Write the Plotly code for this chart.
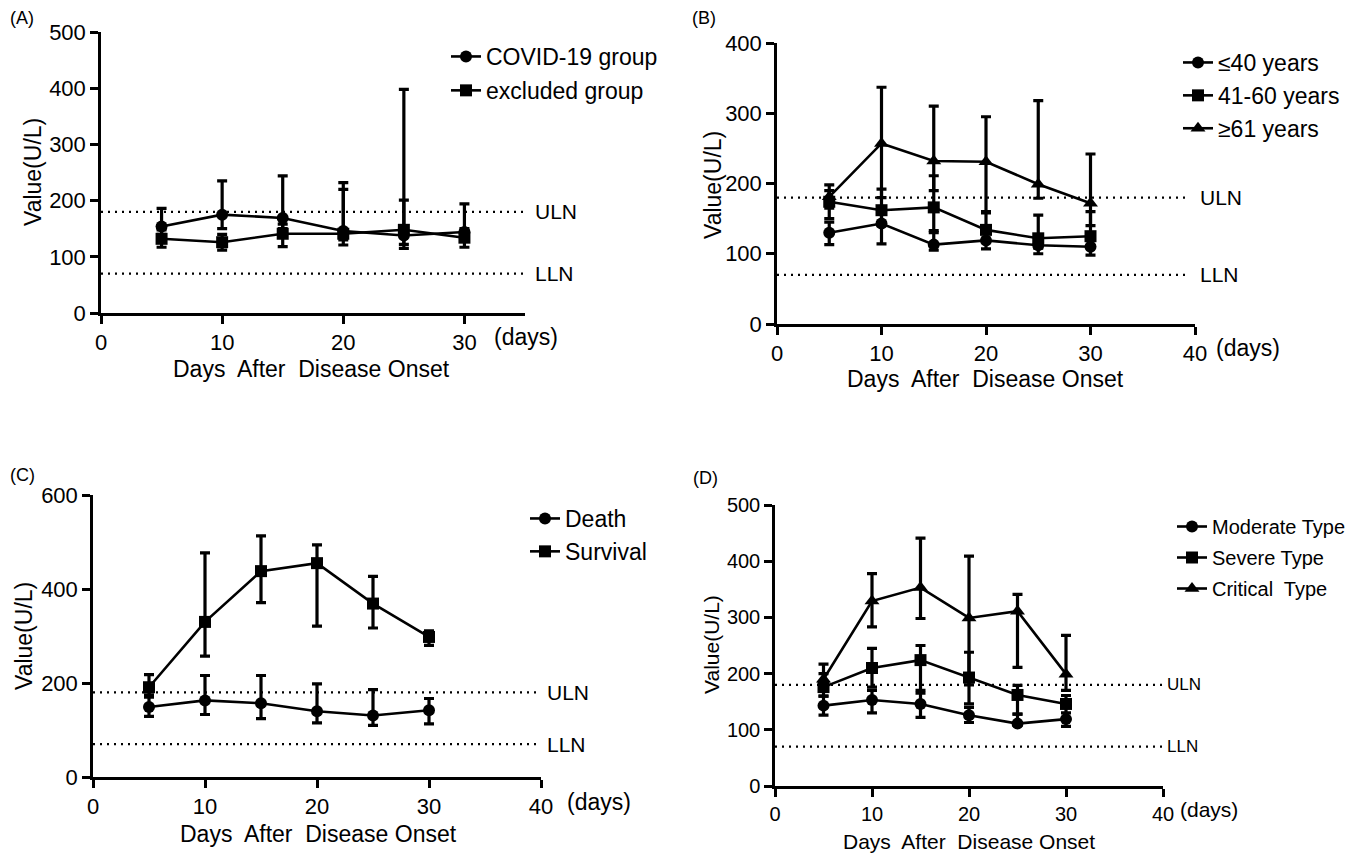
import plotly.graph_objects as go

W, H = 1357, 854
OFF = 8  # page body margin offset of the plot div
FW, FH = W - OFF, H - OFF
FONT = "Liberation Sans, Arial, sans-serif"

days = [5, 10, 15, 20, 25, 30]
ULN, LLN = 180, 70

# Panel A
covid_mean = [154, 175, 169, 146, 138, 144]
covid_upper = [186, 235, 244, 232, 201, 194]
covid_lower = [140, 150, 150, 130, 122, 128]
excl_mean = [132, 126, 141, 141, 148, 134]
excl_upper = [148, 140, 158, 220, 398, 150]
excl_lower = [117, 112, 118, 121, 115, 117]

# Panel B
young_mean = [130, 143, 113, 119, 112, 110]
young_upper = [145, 160, 130, 130, 120, 120]
young_lower = [113, 114, 105, 107, 100, 98]
mid_mean = [174, 162, 166, 134, 122, 125]
mid_upper = [198, 192, 211, 158, 155, 160]
mid_lower = [150, 140, 133, 118, 108, 110]
old_mean = [181, 257, 232, 231, 199, 172]
old_upper = [190, 337, 310, 295, 318, 242]
old_lower = [165, 180, 190, 160, 179, 140]

# Panel C
death_mean = [149, 163, 157, 140, 131, 142]
death_upper = [170, 216, 216, 198, 186, 167]
death_lower = [129, 133, 124, 115, 110, 113]
surv_mean = [191, 330, 438, 455, 369, 298]
surv_upper = [218, 477, 513, 494, 427, 311]
surv_lower = [175, 257, 371, 321, 317, 280]

# Panel D
mod_mean = [143, 153, 146, 126, 111, 119]
mod_upper = [160, 170, 165, 140, 128, 130]
mod_lower = [126, 130, 122, 113, 108, 106]
sev_mean = [176, 210, 224, 193, 162, 146]
sev_upper = [200, 245, 250, 238, 179, 161]
sev_lower = [160, 176, 170, 146, 128, 120]
crit_mean = [190, 329, 353, 299, 311, 199]
crit_upper = [217, 378, 441, 409, 341, 268]
crit_lower = [180, 283, 298, 180, 211, 170]


def px(x):
    return (x - OFF) / FW


def py(y):
    return 1 - (y - OFF) / FH


panels = {
    "A": dict(x0=101, x1=525, yb=313, yt=32, xmax=35, ymax=500, ydt=100, fs=22, xt=[0, 10, 20, 30]),
    "B": dict(x0=777, x1=1195, yb=324, yt=43, xmax=40, ymax=400, ydt=100, fs=22, xt=[0, 10, 20, 30, 40]),
    "C": dict(x0=93, x1=541, yb=777, yt=495, xmax=40, ymax=600, ydt=200, fs=22, xt=[0, 10, 20, 30, 40]),
    "D": dict(x0=775, x1=1163, yb=786, yt=505, xmax=40, ymax=500, ydt=100, fs=20, xt=[0, 10, 20, 30, 40]),
}

fig = go.Figure()

series = {
    "A": [("COVID-19 group", "circle", covid_mean, covid_upper, covid_lower),
          ("excluded group", "square", excl_mean, excl_upper, excl_lower)],
    "B": [("≤40 years", "circle", young_mean, young_upper, young_lower),
          ("41-60 years", "square", mid_mean, mid_upper, mid_lower),
          ("≥61 years", "triangle-up", old_mean, old_upper, old_lower)],
    "C": [("Death", "circle", death_mean, death_upper, death_lower),
          ("Survival", "square", surv_mean, surv_upper, surv_lower)],
    "D": [("Moderate Type", "circle", mod_mean, mod_upper, mod_lower),
          ("Severe Type", "square", sev_mean, sev_upper, sev_lower),
          ("Critical  Type", "triangle-up", crit_mean, crit_upper, crit_lower)],
}

legend_ids = {"A": "legend", "B": "legend2", "C": "legend3", "D": "legend4"}
legend_pos = {"A": (446, 35), "B": (1178, 41), "C": (525, 497), "D": (1172, 507)}
legend_fs = {"A": 23, "B": 23, "C": 23, "D": 20}
legend_gap = {"A": 1, "B": 0, "C": 0, "D": 2}

annotations = []
shapes = []

for i, key in enumerate(["A", "B", "C", "D"]):
    p = panels[key]
    n = "" if i == 0 else str(i + 1)
    xa, ya = "x" + n, "y" + n
    for name, sym, mean, up, lo in series[key]:
        fig.add_trace(go.Scatter(
            x=days, y=mean, name=name, mode="lines+markers",
            xaxis=xa, yaxis=ya, legend=legend_ids[key], legendgroup=key + name,
            line=dict(color="black", width=2.6),
            marker=dict(symbol=sym, size=12 if sym != "triangle-up" else 13, color="black"),
            error_y=dict(type="data", symmetric=False,
                         array=[u - m for u, m in zip(up, mean)],
                         arrayminus=[m - l for m, l in zip(mean, lo)],
                         color="black", thickness=3.2, width=5),
            cliponaxis=False,
        ))
    axis_common = dict(showline=True, linecolor="black", linewidth=2.5, ticks="outside",
                       ticklen=8, tickwidth=2.5, tickcolor="black", showgrid=False,
                       zeroline=False, automargin=False,
                       tickfont=dict(family=FONT, size=p["fs"], color="black"))
    fig.update_layout(**{
        "xaxis" + n: dict(domain=[px(p["x0"]), px(p["x1"])], range=[0, p["xmax"]],
                          tickvals=p["xt"], anchor=ya, **axis_common),
        "yaxis" + n: dict(domain=[py(p["yb"]), py(p["yt"])], range=[0, p["ymax"]],
                          dtick=p["ydt"], anchor=xa, **axis_common),
    })
    lx, ly = legend_pos[key]
    fig.update_layout(**{legend_ids[key]: dict(
        x=px(lx), y=py(ly), xanchor="left", yanchor="top", bgcolor="rgba(0,0,0,0)",
        font=dict(family=FONT, size=legend_fs[key], color="black"),
        tracegroupgap=legend_gap[key], itemwidth=30)})
    xend = p["xmax"] if key in ("A", "C", "D") else p["xmax"] - 0.5
    shift = {"A": 8, "B": 8, "C": 4, "D": 2}[key]
    for val, lab in [(ULN, "ULN"), (LLN, "LLN")]:
        shapes.append(dict(type="line", xref=xa, yref=ya, x0=0, x1=xend, y0=val, y1=val,
                           line=dict(color="black", width=2.2, dash="2px,5px")))
        annotations.append(dict(xref=xa, yref=ya, x=xend, y=val, text=lab, showarrow=False,
                                xanchor="left", yanchor="middle", xshift=shift,
                                font=dict(family=FONT, size=21 if key != "D" else 17, color="black")))

ytitles = {"A": (33, 172), "B": (713, 185), "C": (24, 636), "D": (711, 645)}
xtitles = {"A": (311, 369), "B": (986, 379), "C": (318, 834), "D": (969, 841)}
days_lab = {"A": (492, 337), "B": (1214, 348), "C": (565, 802), "D": (1178, 809)}
plabels = {"A": (8, 18), "B": (690, 18), "C": (8, 475), "D": (691, 478)}
for key in ["A", "B", "C", "D"]:
    fs = 23 if key != "D" else 21
    x, y = ytitles[key]
    annotations.append(dict(xref="paper", yref="paper", x=px(x), y=py(y), text="Value(U/L)",
                            textangle=-90, showarrow=False, xanchor="center", yanchor="middle",
                            font=dict(family=FONT, size=fs, color="black")))
    x, y = xtitles[key]
    annotations.append(dict(xref="paper", yref="paper", x=px(x), y=py(y),
                            text="Days&nbsp; After&nbsp; Disease Onset",
                            showarrow=False, xanchor="center", yanchor="middle",
                            font=dict(family=FONT, size=fs, color="black")))
    x, y = days_lab[key]
    annotations.append(dict(xref="paper", yref="paper", x=px(x), y=py(y), text="(days)",
                            showarrow=False, xanchor="left", yanchor="middle",
                            font=dict(family=FONT, size=fs, color="black")))
    x, y = plabels[key]
    annotations.append(dict(xref="paper", yref="paper", x=px(x), y=py(y), text="(" + key + ")",
                            showarrow=False, xanchor="left", yanchor="middle",
                            font=dict(family=FONT, size=18, color="black")))

fig.update_layout(width=FW, height=FH, margin=dict(l=0, r=0, t=0, b=0),
                  paper_bgcolor="white", plot_bgcolor="white",
                  shapes=shapes, annotations=annotations, showlegend=True)

fig.write_html("out.html")
